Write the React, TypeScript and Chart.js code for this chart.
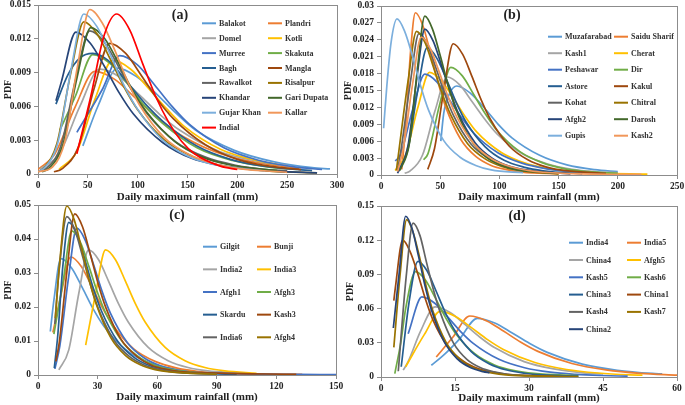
import React, { useEffect, useRef } from "react";
import { Chart, registerables } from "chart.js";
Chart.register(...registerables);

const FONT = '"Liberation Serif", "Times New Roman", serif';
const TEXT = "#222222";
const AXIS = "#8c8c8c";

const palette = [
  "#5B9BD5", "#ED7D31", "#A5A5A5", "#FFC000", "#4472C4", "#70AD47", "#255E91",
  "#9E480E", "#636363", "#997300", "#264478", "#43682B", "#7CAFDD", "#F1975A", "#FF0000",
];

// ---------- Panel (a) ----------
const namesA = ["Balakot", "Plandri", "Domel", "Kotli", "Murree", "Skakuta", "Bagh", "Mangla", "Rawalkot", "Risalpur", "Khandar", "Gari Dupata", "Gujar Khan", "Kallar", "Indial"];
const curvesA: number[][][] = [
  [[45, .0025], [60.5, .0061], [80, .0094], [99.5, .0086], [119, .0071], [138.5, .0054], [158, .0039], [197, .0021], [236, .0011], [275, .00056], [293, .00045]],
  [[0, .0004], [17, .0018], [37, .0059], [57, .0091], [77, .0084], [97, .0068], [117, .0052], [137, .0038], [177, .002], [217, .00105], [262, .0005]],
  [[2, .0004], [22, .0019], [42, .006], [62, .0093], [82, .0086], [102, .007], [122, .0053], [142, .0039], [182, .002], [222, .0011], [250, .00075]],
  [[21, .0004], [39, .002], [57, .0066], [75, .0101], [93, .0093], [111, .0076], [129, .0058], [147, .0042], [183, .0022], [219, .0012], [240, .00085]],
  [[39, .0037], [64.5, .0075], [82, .0105], [99.5, .0097], [117, .0079], [134.5, .006], [152, .0044], [187, .0023], [222, .0012], [257, .00063], [285, .0004]],
  [[22, .0039], [37.5, .0069], [55, .0106], [72.5, .0098], [90, .008], [107.5, .006], [125, .0045], [160, .0023], [195, .0012], [230, .00064], [260, .0004]],
  [[18, .0062], [30, .0088], [42, .0103], [55, .0107], [70, .0101], [90, .0081], [110, .006], [125, .0047], [159, .0025], [193, .0013], [227, .0007], [275, .0003]],
  [[16, .0002], [24, .00046], [40, .0023], [56, .0075], [72, .0116], [88, .0107], [104, .0087], [120, .0066], [136, .0049], [168, .0026], [200, .0013], [232, .0007], [264, .00038]],
  [[0, .0002], [8.5, .0005], [23, .0025], [37.5, .0083], [52, .0127], [66.5, .0117], [81, .0095], [95.5, .0072], [110, .0053], [139, .0028], [168, .0015], [197, .0008], [226, .00042], [250, .0003]],
  [[0, .0002], [5.5, .0005], [19, .0027], [32.5, .0088], [46, .0135], [59.5, .0124], [73, .0101], [86.5, .0077], [100, .0057], [127, .003], [154, .0016], [181, .0008], [208, .00045], [235, .00024], [280, .0001]],
  [[18, .0065], [23.5, .0082], [38, .0126], [52.5, .0116], [67, .0095], [81.5, .0072], [96, .0053], [125, .0028], [154, .0014], [183, .00076], [212, .00042], [241, .00023], [280, .0001]],
  [[4, .0002], [11, .0005], [25, .0026], [39, .0085], [53, .013], [67, .012], [81, .0098], [95, .0074], [109, .0055], [137, .0029], [165, .0015], [193, .0008], [240, .0003]],
  [[0, .0002], [7, .0006], [20, .0028], [33, .0092], [46, .0142], [59, .0131], [72, .0107], [85, .0081], [98, .006], [124, .0031], [150, .0016], [176, .00085], [228, .00026]],
  [[0, .0002], [14.5, .0006], [27, .0029], [39.5, .0095], [52, .0146], [64.5, .0134], [77, .011], [89.5, .0083], [102, .0061], [127, .0032], [152, .0017], [177, .0009], [202, .00048], [250, .00015]],
  [[39, .0018], [53, .0069], [66, .0122], [79, .0142], [92, .0128], [105, .0098], [118, .0069], [131, .0046], [144, .0029], [157, .0018], [183, .0007], [200, .0004]],
];
const xTicksA = [0, 50, 100, 150, 200, 250, 300];
const yTicksA = [0, 0.003, 0.006, 0.009, 0.012, 0.015];

// ---------- Panel (b) ----------
const namesB = ["Muzafarabad", "Saidu Sharif", "Kash1", "Cherat", "Peshawar", "Dir", "Astore", "Kakul", "Kohat", "Chitral", "Afgh2", "Darosh", "Gupis", "Kash2"];
const curvesB: number[][][] = [
  [[50.5, .006], [53, .011], [58, .0145], [64, .0158], [75.6, .0145], [87.3, .0119], [99, .009], [110.6, .0066], [134, .0035], [157, .0018], [180.5, .00095], [200, .0006]],
  [[17.5, .001], [21, .009], [25, .022], [29, .0288], [35.4, .0265], [41.8, .0216], [48.2, .0164], [54.6, .0121], [67.4, .0063], [80, .0033], [93, .0017], [106, .00095], [119, .0005], [150, .0002]],
  [[20, .0003], [24.4, .0007], [35, .0035], [45.5, .0113], [56, .0174], [66.5, .016], [77, .013], [87.7, .0099], [98, .0073], [119, .0038], [140, .002], [161.5, .001], [182.6, .00057], [200, .0004]],
  [[12, .0008], [20.8, .0036], [30.9, .0118], [41, .0182], [51, .0167], [61, .0137], [71, .0104], [81, .0076], [101.6, .004], [121.8, .0021], [142, .0011], [162, .0006], [182, .00033], [225, .00015]],
  [[12, .0025], [16.4, .0036], [26.7, .0116], [37, .0179], [47.3, .0165], [57.6, .0134], [68, .0102], [78, .0075], [99, .0039], [119, .0021], [140, .0011], [160.6, .0006], [190, .0003]],
  [[36, .0027], [39.7, .0038], [49.4, .0124], [59, .0191], [68.7, .0176], [78.3, .0143], [88, .0109], [97.6, .008], [117, .0042], [136, .0022], [155.5, .0011], [175, .0006], [200, .0003]],
  [[14.5, .0006], [22.7, .0045], [30.8, .0147], [39, .0226], [47, .0208], [55.3, .017], [63.5, .0129], [71.6, .0095], [88, .005], [104, .0026], [120.5, .0014], [137, .00075], [170, .0002]],
  [[39.5, .001], [45.2, .0047], [53.1, .0151], [61, .0233], [69, .0214], [76.8, .0175], [84.7, .0133], [92.6, .0098], [108.4, .0051], [124, .0027], [140, .0014], [156, .00077], [190, .0003]],
  [[14, .0008], [17.3, .005], [24.7, .0163], [32, .0251], [39.4, .0231], [46.7, .0188], [54, .0143], [61.4, .0105], [76, .0055], [91, .0029], [105.5, .0015], [120, .0008], [140, .0004]],
  [[13, .0008], [15.6, .0051], [22.8, .0166], [30, .0255], [37.2, .0235], [44.4, .0191], [51.6, .0145], [58.8, .0107], [73, .0056], [87.6, .0029], [102, .0015], [116.4, .0008], [150, .0002]],
  [[14, .0003], [22.8, .0052], [30, .0168], [37, .0259], [44, .0238], [51.2, .0194], [58.3, .0148], [65.4, .0109], [79.6, .0057], [93.8, .003], [108, .0016], [122.4, .0009], [160, .0002]],
  [[16, .0008], [24, .0056], [30.5, .0183], [37, .0282], [43.5, .0259], [50, .0212], [56.5, .0161], [63, .0118], [76, .0062], [89, .0032], [102, .0017], [115, .0009], [150, .0003]],
  [[2.2, .0083], [5, .016], [8.5, .0235], [13.5, .0277], [20, .0255], [27, .0208], [33.5, .0158], [40, .0116], [53, .0061], [66.5, .0032], [80, .0017], [93, .0009], [120, .0004]],
  [[14, .0006], [19, .0049], [26.5, .0159], [34, .0245], [41.5, .0225], [49, .0184], [56.5, .014], [64, .0103], [79, .0054], [94, .0028], [109, .0015], [124, .0008], [154, .0003], [220, .0001]],
];
const xTicksB = [0, 50, 100, 150, 200, 250];
const yTicksB = [0, 0.003, 0.006, 0.009, 0.012, 0.015, 0.018, 0.021, 0.024, 0.027, 0.03];

// ---------- Panel (c) ----------
const namesC = ["Gilgit", "Bunji", "India2", "India3", "Afgh1", "Afgh3", "Skardu", "Kash3", "India6", "Afgh4"];
const curvesC: number[][][] = [
  [[6.2, .0128], [8, .022], [11.5, .0342], [16.9, .0315], [22.3, .0257], [27.7, .0195], [33.1, .0144], [44, .0075], [54.7, .0039], [65.5, .0021], [76.3, .0011], [87, .0006], [115, .0002]],
  [[7.5, .0125], [11.2, .0226], [16.5, .0347], [21.8, .0319], [27.1, .026], [32.4, .0198], [37.7, .0146], [48.3, .0076], [58.9, .004], [69.5, .0021], [80, .0011], [90.7, .0006], [133, .0002]],
  [[10.5, .0015], [15.5, .0074], [20.5, .0239], [25.5, .0368], [30.5, .0339], [35.5, .0276], [40.5, .021], [45.5, .0155], [55.5, .0081], [65.5, .0042], [75.5, .0022], [85.5, .0012], [100, .0006]],
  [[24, .0088], [29, .0239], [34, .0368], [39, .0339], [44, .0276], [49, .021], [54, .0155], [64, .0081], [74, .0042], [84, .0022], [94, .0012], [110, .0005]],
  [[8.5, .0018], [11, .0086], [15.25, .0281], [19.5, .0432], [23.75, .0397], [28, .0324], [32.25, .0246], [36.5, .0181], [45, .0095], [53.5, .005], [62, .0026], [70.5, .0014], [79, .0008], [150, .0001]],
  [[8, .012], [12.65, .0276], [17, .0424], [21.35, .039], [25.7, .0318], [30, .0242], [34.4, .0178], [43.1, .0093], [51.8, .0049], [60.5, .0025], [69.2, .0014], [80, .0007]],
  [[8.2, .002], [10, .012], [12.5, .032], [15.5, .0449], [19.6, .0413], [23.7, .0337], [27.8, .0256], [31.9, .0189], [40.1, .0099], [48.3, .0052], [56.5, .0027], [64.7, .0015], [73, .0008], [100, .0002]],
  [[9, .004], [10.7, .0095], [14.6, .0308], [18.5, .0474], [22.4, .0436], [26.3, .0356], [30.2, .027], [34.1, .0199], [41.9, .0104], [49.7, .0055], [57.5, .0028], [65.3, .0016], [73, .0009], [130, .0002]],
  [[8.5, .015], [10.55, .0303], [14.5, .0466], [18.45, .0429], [22.4, .035], [26.35, .0266], [30.3, .0196], [38.2, .0103], [46.1, .0054], [54, .0028], [62, .0015], [70, .0008], [90, .0003]],
  [[8.7, .0167], [10.8, .0323], [14.5, .0497], [18.2, .0457], [21.9, .0373], [25.6, .0283], [29.3, .0209], [36.7, .0109], [44.1, .0057], [51.5, .003], [58.9, .0016], [66.3, .0009], [90, .0002]],
];
const xTicksC = [0, 30, 60, 90, 120, 150];
const yTicksC = [0, 0.01, 0.02, 0.03, 0.04, 0.05];

// ---------- Panel (d) ----------
const namesD = ["India4", "India5", "China4", "Afgh5", "Kash5", "Kash6", "China3", "China1", "Kash4", "Kash7", "China2"];
const curvesD: number[][][] = [
  [[10.2, .0103], [12.4, .018], [15.95, .0335], [19.5, .0515], [23.05, .0474], [26.6, .0386], [30.15, .0294], [33.7, .0216], [40.8, .0113], [47.9, .0059], [55, .0031], [57, .0027]],
  [[11.2, .0176], [14.55, .0348], [18, .0535], [21.45, .0492], [24.9, .0401], [28.35, .0305], [31.8, .0225], [38.7, .0118], [45.6, .0062], [52.5, .0032], [60, .0017]],
  [[4.5, .006], [5.5, .0135], [8, .04], [11, .0615], [14, .0566], [17, .0461], [20, .0351], [23, .0258], [29, .0135], [35, .0071], [41, .0037], [45, .0028]],
  [[5, .009], [8.8, .0374], [12, .0575], [15.2, .0529], [18.4, .0431], [21.6, .0328], [24.8, .0242], [31.2, .0127], [37.6, .0066], [44, .0035], [50.4, .0019], [53, .0016]],
  [[5.5, .038], [8.3, .0703], [10.9, .0647], [13.5, .0527], [16.1, .0401], [18.7, .0295], [23.9, .0155], [29.1, .0081], [34.3, .0042], [39.5, .0023], [44.7, .0013], [50, .0007]],
  [[2.8, .003], [4, .03], [5, .0601], [7, .0925], [9, .0851], [11, .0694], [13, .0527], [15, .0389], [19, .0204], [23, .0106], [27, .0056], [31, .0031], [40, .001]],
  [[4.1, .009], [5.7, .066], [7.5, .1015], [9.3, .0934], [11.1, .0761], [12.9, .0579], [14.7, .0426], [18.3, .0223], [21.9, .0117], [25.5, .0061], [29.1, .0033], [32.7, .0018], [40, .0007]],
  [[2.6, .067], [2.9, .078], [4.4, .12], [5.9, .11], [7.5, .09], [9, .0684], [10.5, .0504], [13.6, .0264], [16.7, .0138], [19.8, .0072], [22.9, .004], [26, .0022], [35, .0006]],
  [[3.5, .005], [5.1, .0878], [6.5, .135], [7.9, .124], [9.2, .101], [10.6, .077], [12, .0567], [14.7, .0297], [17.4, .0155], [20.2, .0081], [22.9, .0045], [25.6, .0024], [30, .0011]],
  [[2.6, .026], [3.87, .0897], [5.2, .138], [6.5, .127], [7.9, .1035], [9.2, .0787], [10.5, .058], [13.2, .0304], [15.9, .0159], [18.6, .0083], [21.2, .0046], [23.9, .0025], [26.6, .0014], [40, .0004]],
  [[2.5, .043], [3.7, .0917], [5, .141], [6.3, .13], [7.6, .106], [8.9, .0804], [10.2, .0592], [12.8, .031], [15.4, .0162], [18, .0085], [20.7, .0047], [22, .0037]],
];
const xTicksD = [0, 15, 30, 45, 60];
const yTicksD = [0, 0.03, 0.06, 0.09, 0.12, 0.15];

const X_TITLE = "Daily maximum rainfall (mm)";
const Y_TITLE = "PDF";

type PanelProps = {
  pos: { left: number; top: number; w: number; h: number };
  area: { left: number; top: number; right: number; bottom: number };
  names: string[];
  curves: number[][][];
  colors: string[];
  xTicks: number[];
  yTicks: number[];
  label: string;
  labelPos: { x: number; y: number };
  legend: { c1: number; c2: number; y0: number; dy: number };
  yTitlePad: number;
  xTitlePad: number;
};

function Panel(p: PanelProps) {
  const ref = useRef<HTMLCanvasElement | null>(null);
  useEffect(() => {
    const canvas = ref.current;
    if (!canvas) return;
    const n = p.names.length;
    const overlay = {
      id: "overlay" + p.label,
      beforeDatasetsDraw(chart: any) {
        const { ctx, chartArea: a } = chart;
        ctx.save();
        ctx.strokeStyle = AXIS;
        ctx.lineWidth = 1;
        ctx.strokeRect(Math.round(a.left) + 0.5, Math.round(a.top) + 0.5, Math.round(a.right - a.left), Math.round(a.bottom - a.top));
        ctx.restore();
      },
      afterDraw(chart: any) {
        const { ctx } = chart;
        ctx.save();
        ctx.font = `bold 14px ${FONT}`;
        ctx.fillStyle = TEXT;
        ctx.textAlign = "center";
        ctx.textBaseline = "middle";
        ctx.fillText(p.label, p.labelPos.x, p.labelPos.y);
        ctx.font = `bold 8px ${FONT}`;
        ctx.textAlign = "left";
        for (let i = 0; i < n; i++) {
          const col = i % 2;
          const row = Math.floor(i / 2);
          const lx = col === 0 ? p.legend.c1 : p.legend.c2;
          const ly = p.legend.y0 + row * p.legend.dy;
          ctx.strokeStyle = p.colors[i];
          ctx.lineWidth = 2;
          ctx.beginPath();
          ctx.moveTo(lx, ly);
          ctx.lineTo(lx + 14, ly);
          ctx.stroke();
          ctx.fillStyle = "#333333";
          ctx.fillText(p.names[i], lx + 17, ly + 0.5);
        }
        ctx.restore();
      },
    };
    const tickFont = { family: FONT, size: 9.5, weight: "bold" as const };
    const chart = new Chart(canvas, {
      type: "line",
      data: {
        datasets: p.names.map((name, i) => ({
          label: name,
          data: p.curves[i].map(([x, y]) => ({ x, y })),
          borderColor: p.colors[i],
          backgroundColor: p.colors[i],
          borderWidth: 1.7,
          pointRadius: 0,
          fill: false,
          cubicInterpolationMode: "monotone" as const,
          order: n - i,
        })),
      },
      options: {
        responsive: false,
        animation: false,
        devicePixelRatio: 1,
        layout: { padding: { left: 0, top: p.area.top, right: p.pos.w - p.area.right, bottom: 0 } },
        plugins: { legend: { display: false }, tooltip: { enabled: false } },
        scales: {
          x: {
            type: "linear",
            min: p.xTicks[0],
            max: p.xTicks[p.xTicks.length - 1],
            afterBuildTicks: (s: any) => {
              s.ticks = p.xTicks.map((v) => ({ value: v }));
            },
            afterFit: (s: any) => {
              s.height = p.pos.h - p.area.bottom;
              s.paddingLeft = 0;
              s.paddingRight = 0;
            },
            grid: { drawOnChartArea: false, drawTicks: true, tickLength: 4, color: AXIS },
            border: { color: AXIS, width: 1 },
            ticks: { font: tickFont, color: TEXT, padding: 2, maxRotation: 0, autoSkip: false },
            title: { display: true, text: X_TITLE, color: TEXT, font: { family: FONT, size: 11, weight: "bold" }, padding: { top: 0, bottom: p.xTitlePad } },
          },
          y: {
            type: "linear",
            min: p.yTicks[0],
            max: p.yTicks[p.yTicks.length - 1],
            afterBuildTicks: (s: any) => {
              s.ticks = p.yTicks.map((v) => ({ value: v }));
            },
            afterFit: (s: any) => {
              s.width = p.area.left;
              s.paddingTop = 0;
              s.paddingBottom = 0;
            },
            grid: { drawOnChartArea: false, drawTicks: true, tickLength: 4, color: AXIS },
            border: { color: AXIS, width: 1 },
            ticks: {
              font: tickFont,
              color: TEXT,
              padding: 3,
              autoSkip: false,
              callback: (v: any) => String(parseFloat(Number(v).toFixed(3))),
            },
            title: { display: true, text: Y_TITLE, color: TEXT, font: { family: FONT, size: 10, weight: "bold" }, padding: { top: p.yTitlePad, bottom: 0 } },
          },
        },
      },
      plugins: [overlay],
    } as any);
    return () => chart.destroy();
  }, []);
  return (
    <canvas
      ref={ref}
      width={p.pos.w}
      height={p.pos.h}
      style={{ position: "absolute", left: p.pos.left, top: p.pos.top, width: p.pos.w, height: p.pos.h }}
    />
  );
}

export default function App() {
  return (
    <div style={{ position: "fixed", left: 0, top: 0, width: 685, height: 405, background: "#ffffff", overflow: "hidden" }}>
      <Panel
        pos={{ left: 0, top: 0, w: 345, h: 204 }}
        area={{ left: 38, top: 5, right: 337, bottom: 174 }}
        names={namesA}
        curves={curvesA}
        colors={palette}
        xTicks={xTicksA}
        yTicks={yTicksA}
        label="(a)"
        labelPos={{ x: 180, y: 15 }}
        legend={{ c1: 202, c2: 268, y0: 23.3, dy: 14.9 }}
        yTitlePad={2}
        xTitlePad={0}
      />
      <Panel
        pos={{ left: 340, top: 0, w: 345, h: 204 }}
        area={{ left: 41, top: 6, right: 337, bottom: 175 }}
        names={namesB}
        curves={curvesB}
        colors={palette}
        xTicks={xTicksB}
        yTicks={yTicksB}
        label="(b)"
        labelPos={{ x: 172, y: 15 }}
        legend={{ c1: 208, c2: 274, y0: 36.7, dy: 16.5 }}
        yTitlePad={2}
        xTitlePad={0}
      />
      <Panel
        pos={{ left: 0, top: 200, w: 345, h: 205 }}
        area={{ left: 38, top: 5, right: 336, bottom: 175 }}
        names={namesC}
        curves={curvesC}
        colors={palette}
        xTicks={xTicksC}
        yTicks={yTicksC}
        label="(c)"
        labelPos={{ x: 177, y: 15 }}
        legend={{ c1: 203, c2: 257, y0: 46.7, dy: 22.65 }}
        yTitlePad={2}
        xTitlePad={1}
      />
      <Panel
        pos={{ left: 340, top: 200, w: 345, h: 205 }}
        area={{ left: 41, top: 6, right: 337, bottom: 177 }}
        names={namesD}
        curves={curvesD}
        colors={palette}
        xTicks={xTicksD}
        yTicks={yTicksD}
        label="(d)"
        labelPos={{ x: 177, y: 16 }}
        legend={{ c1: 229, c2: 287, y0: 42.7, dy: 17.3 }}
        yTitlePad={4}
        xTitlePad={0}
      />
    </div>
  );
}
